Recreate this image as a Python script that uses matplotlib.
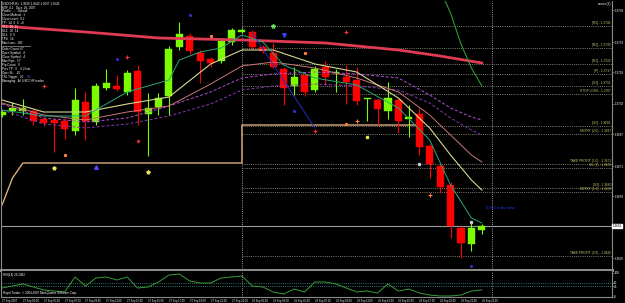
import matplotlib
matplotlib.use("Agg")
import matplotlib.pyplot as plt
import matplotlib.transforms as mtransforms
import numpy as np

plt.rcParams["font.family"] = ["Liberation Sans", "DejaVu Sans"]

W, H = 625, 303

# USDCHF H1 bars, 27 Sep 01:00 .. 28 Sep 23:00
opens = [1.36965, 1.36985, 1.36985, 1.36985, 1.36945, 1.3694, 1.36935, 1.36885, 1.3703, 1.3693,
         1.3710, 1.3711, 1.3708, 1.37185, 1.3697, 1.37005, 1.3706, 1.37305, 1.3736, 1.37275,
         1.37245, 1.37235, 1.3733, 1.3738, 1.3738, 1.37305, 1.37275, 1.37195, 1.3711, 1.37165,
         1.3709, 1.37205, 1.37175, 1.37155, 1.3714, 1.37045, 1.3704, 1.36985, 1.3704, 1.36945,
         1.3697, 1.3681, 1.3671, 1.36615, 1.3640, 1.3632, 1.3639]
highs = [1.3699, 1.3703, 1.37045, 1.36995, 1.36955, 1.3695, 1.3695, 1.3710, 1.3708, 1.37125,
         1.37195, 1.37165, 1.3719, 1.37215, 1.37075, 1.37075, 1.3731, 1.3743, 1.37375, 1.3729,
         1.37255, 1.3735, 1.3740, 1.3740, 1.3739, 1.37315, 1.37325, 1.37205, 1.37205, 1.37175,
         1.3721, 1.37235, 1.37195, 1.37215, 1.37205, 1.3705, 1.3705, 1.3713, 1.3705, 1.37015,
         1.3700, 1.3682, 1.3672, 1.3663, 1.3641, 1.36425, 1.3642]
lows = [1.36955, 1.36965, 1.36965, 1.36915, 1.3691, 1.3678, 1.36845, 1.36865, 1.3684, 1.36915,
        1.3709, 1.37085, 1.37065, 1.36915, 1.3676, 1.36965, 1.36965, 1.3729, 1.3727, 1.37125,
        1.37205, 1.37225, 1.37315, 1.37375, 1.37295, 1.37275, 1.3720, 1.37015, 1.37065, 1.3706,
        1.3708, 1.37115, 1.3708, 1.3702, 1.37015, 1.36935, 1.36915, 1.36945, 1.36875, 1.36855,
        1.36765, 1.3665, 1.36575, 1.3635, 1.3625, 1.36285, 1.3637]
closes = [1.3698, 1.3700, 1.3700, 1.36935, 1.36925, 1.36925, 1.36895, 1.3704, 1.36935, 1.3711,
          1.37125, 1.37095, 1.37175, 1.3698, 1.3700, 1.3705, 1.37295, 1.3737, 1.37285, 1.37235,
          1.37225, 1.37335, 1.3739, 1.3739, 1.37305, 1.37285, 1.37205, 1.3710, 1.37155, 1.3708,
          1.37195, 1.37155, 1.3718, 1.3713, 1.37035, 1.3705, 1.36995, 1.3705, 1.36935, 1.36955,
          1.36805, 1.3672, 1.36605, 1.3641, 1.36325, 1.3640, 1.3641]

rsi = [37.5, 45.8, 54.2, 41.7, 29.2, 25.0, 20.8, 83.3, 45.8, 79.2,
       83.3, 70.8, 83.3, 37.5, 41.7, 62.5, 91.7, 95.8, 66.7, 58.3,
       58.3, 79.2, 83.3, 87.5, 45.8, 41.7, 20.8, 12.5, 33.3, 20.8,
       62.5, 62.5, 54.2, 37.5, 20.8, 25.0, 16.7, 54.2, 25.0, 33.3,
       16.7, 8.3, 4.2, 4.2, 8.3, 25.0, 29.2]

# indicator lines, read at selected bars
ma_idx = [0, 4, 8, 12, 16, 20, 23, 26, 30, 34, 38, 41, 43, 45, 46]
ma_yellow = [1.3704, 1.3698, 1.3698, 1.3702, 1.37055, 1.3722, 1.3729, 1.3729, 1.3722, 1.3718,
             1.3705, 1.3690, 1.36765, 1.3664, 1.3659]
ma_pink = [1.37025, 1.36965, 1.3694, 1.3698, 1.3701, 1.3712, 1.3721, 1.3723, 1.3720, 1.3715,
           1.3708, 1.36965, 1.36865, 1.36765, 1.3673]
ma_purple1 = [1.3702, 1.3695, 1.3693, 1.3695, 1.3701, 1.3708, 1.3715, 1.3717, 1.3718, 1.3717,
              1.3715, 1.37065, 1.3700, 1.36955, 1.3694]
ma_purple2 = [1.3699, 1.3692, 1.3690, 1.3692, 1.3696, 1.3702, 1.3709, 1.3711, 1.3712, 1.3711,
              1.3709, 1.37025, 1.3695, 1.3689, 1.36865]
teal_idx = [0, 4, 8, 12, 16, 17, 19, 21, 23, 25, 27, 30, 34, 38, 41, 43, 45, 46]
ma_teal = [1.3699, 1.3696, 1.3696, 1.3708, 1.3714, 1.3724, 1.3728, 1.3730, 1.37365, 1.3733,
           1.37215, 1.3715, 1.37115, 1.3700, 1.3684, 1.36615, 1.3645, 1.36425]
ma200_idx = [0, 8, 15, 23, 31, 38, 42, 46]
ma200 = [1.3741, 1.3738, 1.3735, 1.3734, 1.37325, 1.3729, 1.3726, 1.37225]
band_idx = [42, 43, 44, 45, 46]
band_up = [1.3759, 1.37475, 1.3732, 1.3720, 1.3711]
trend_idx = [24, 30]
trend = [1.37375, 1.3690]
support_idx = [0, 1, 2, 23, 23, 40]
support = [1.36515, 1.3665, 1.36725, 1.36725, 1.36915, 1.36915]

level_names = ["[R3]", "[R2]", "[R1]", "[P]", "[S1]", "STOP LOSS", "[S2]", "ENTRY (2.0)",
               "TAKE PROFIT (1.0)", "S/L (2)", "[S3]", "ENTRY (1.0)", "TAKE PROFIT (2.0)"]
level_prices = [1.3741, 1.3730, 1.3722, 1.3717, 1.3711, 1.3707, 1.3691, 1.3687,
                1.3672, 1.3670, 1.3660, 1.3658, 1.3626]

price_ticks = [1.3749, 1.3733, 1.3718, 1.3702, 1.3687, 1.3671, 1.3656, 1.3625]
bid = 1.3641

time_ticks = [0, 2, 4, 6, 8, 10, 12, 14, 16, 18, 20, 22, 24, 26, 28, 30, 32, 34, 36, 38, 40, 42, 44, 46]
time_labels = ["27 Sep 2007", "27 Sep 03:00", "27 Sep 05:00", "27 Sep 07:00", "27 Sep 09:00",
               "27 Sep 11:00", "27 Sep 13:00", "27 Sep 15:00", "27 Sep 17:00", "27 Sep 19:00",
               "27 Sep 21:00", "27 Sep 23:00", "28 Sep 01:00", "28 Sep 03:00", "28 Sep 05:00",
               "28 Sep 07:00", "28 Sep 09:00", "28 Sep 11:00", "28 Sep 13:00", "28 Sep 15:00",
               "28 Sep 17:00", "28 Sep 19:00", "28 Sep 21:00", "28 Sep 23:00"]
day_breaks = [23, 47]

# arrows / signals on chart
sig_red_plus = ([4, 12, 30, 33], [1.3711, 1.37255, 1.36885, 1.3738])
sig_orange_dot = ([6, 20, 29, 33], [1.36765, 1.3736, 1.37275, 1.3692])
sig_orange_plus = ([34, 41], [1.36935, 1.36565])
sig_yellow_star = ([5, 14], [1.3670, 1.3668])
sig_yellow_dot = ([35], [1.36855])
sig_green_star = ([26], [1.3741])
sig_blue_dot = ([11, 18, 28, 45], [1.37245, 1.37465, 1.36985, 1.3621])
sig_blue_up = ([9], [1.36705])
sig_blue_down = ([27], [1.37365])
sig_red_dot = ([13], [1.36835])
sig_white_dot = ([40, 45], [1.3672, 1.3643])

info_top = ["USDCHF,H1  1.3639 1.3642 1.3637 1.3641", "MTF 4.1   Date: 26, 2007",
            "Profile: ....  Default", "Close Method:  1", "Close Level:  0.2",
            "TP:  14  0  0  +0", "SL1:  10  15", "SL2:  20  14", "SL3:  0  0",
            "TP4:  14", "Max Loss:  100"]
info_bottom = ["Order Count: 67", "Open Symbol:  4", "Close Symbol:  4", "Max Pips:  57",
               "Pip Count:  0", "Prev TP:  0    0.2 lots", "Oper SL:  -10",
               "TSL Trigger:  20", "Managing:  All USDCHF trades"]

fig = plt.figure(figsize=(W / 100, H / 100), dpi=100, facecolor="black")
ax = fig.add_axes([1 / W, 1 - 269.5 / H, 611 / W, 268.5 / H], facecolor="black")
rx = fig.add_axes([1 / W, 1 - 297 / H, 611 / W, 26.5 / H], facecolor="black")

xl = (-0.1, 58.48)
for a in (ax, rx):
    a.set_xlim(*xl)
    for s in a.spines.values():
        s.set_color("#8a8a8a")
        s.set_linewidth(0.8)
    a.spines["top"].set_visible(False)
    for d in day_breaks:
        a.axvline(d, color="#c8c8c8", lw=0.6, ls=(0, (1, 1.6)), zorder=1)
ax.spines["bottom"].set_linewidth(2.2)

ax.set_ylim(1.361925, 1.37535)

# level lines on the right part
for name, p in zip(level_names, level_prices):
    ax.hlines(p, day_breaks[0], xl[1], colors="#a8a890", lw=0.6, ls=(0, (1, 1.6)), zorder=1)
    ax.text(xl[1] - 0.1, p + 0.00003, f"{name} - {p:.4f}", ha="right", va="bottom",
            fontsize=2.3, color="#c8c86e", zorder=5)

ax.axhline(bid, color="#9a9a9a", lw=0.8, zorder=1)

# indicators
ax.plot(support_idx, support, color="#d9ad7c", lw=1.0, zorder=2)
ax.plot(ma200_idx, ma200, color="#e03a55", lw=2.0, zorder=4)
ax.plot(ma_idx, ma_purple2, color="#8a38b0", lw=0.7, ls=(0, (3, 2)), zorder=4)
ax.plot(ma_idx, ma_purple1, color="#b450d8", lw=0.7, ls=(0, (3, 2)), zorder=4)
ax.plot(ma_idx, ma_pink, color="#c87878", lw=0.7, zorder=4)
ax.plot(ma_idx, ma_yellow, color="#d8d890", lw=0.8, zorder=4)
ax.plot(teal_idx, ma_teal, color="#2aa878", lw=0.7, zorder=4)
ax.plot(band_idx, band_up, color="#2e9a2e", lw=0.8, zorder=4)
ax.plot(trend_idx, trend, color="#2828c8", lw=0.7, zorder=4)

# candles
x = np.arange(len(opens))
o, h, l, c = map(np.array, (opens, highs, lows, closes))
col = np.where(c >= o, "#7cfc00", "#ff0000")
ax.vlines(x, l, h, colors=col, lw=0.8, zorder=3)
ax.bar(x, np.maximum(np.abs(c - o), 0.00005), 0.68, np.minimum(o, c),
       color=col, edgecolor=col, lw=0.3, zorder=3)

# signals
ax.plot(*sig_red_plus, ls="none", marker="+", ms=2.5, mew=0.8, color="#ff3030", zorder=5)
ax.plot(*sig_orange_dot, ls="none", marker="o", ms=1.4, color="#ff7f3f", zorder=5)
ax.plot(*sig_orange_plus, ls="none", marker="+", ms=2.5, mew=0.8, color="#ff7f3f", zorder=5)
ax.plot(*sig_yellow_star, ls="none", marker="*", ms=2.8, color="#e8e060", zorder=5)
ax.plot(*sig_yellow_dot, ls="none", marker="s", ms=1.5, color="#e8e040", zorder=5)
ax.plot(*sig_green_star, ls="none", marker="*", ms=3.0, color="#60e060", zorder=5)
ax.plot(*sig_blue_dot, ls="none", marker="o", ms=1.2, color="#3030d0", zorder=5)
ax.plot(*sig_blue_up, ls="none", marker="^", ms=2.6, color="#6040ff", zorder=5)
ax.plot(*sig_blue_down, ls="none", marker="v", ms=2.6, color="#3040ff", zorder=5)
ax.plot(*sig_red_dot, ls="none", marker="o", ms=1.4, color="#d03030", zorder=5)
ax.plot(*sig_white_dot, ls="none", marker="s", ms=1.4, color="#c8c8d8", zorder=5)

# price scale
ax.set_xticks([])
ax.yaxis.tick_right()
ax.set_yticks(price_ticks)
ax.set_yticklabels([f"{p:.4f}" for p in price_ticks])
ax.tick_params(axis="y", length=1.2, width=0.5, color="#8a8a8a", labelsize=2.2,
               labelcolor="white", pad=0.5)
tr = mtransforms.blended_transform_factory(ax.transAxes, ax.transData)
ax.text(1.001, bid, f"{bid:.4f}", transform=tr, ha="left", va="center", fontsize=2.2,
        color="black", bbox=dict(boxstyle="square,pad=0.12", fc="white", ec="white"),
        clip_on=False, zorder=6)

# RSI window
rx.set_ylim(0, 110.4)
rx.plot(x, rsi, color="#3a9a3a", lw=0.7, zorder=3)
for lv in (60, 45):
    rx.axhline(lv, color="#3e9a9a", lw=0.6, ls=(0, (1, 1.6)), zorder=1)
rx.yaxis.tick_right()
rx.set_yticks([0, 45, 60, 100])
rx.tick_params(axis="y", length=1.2, width=0.5, color="#8a8a8a", labelsize=2.2,
               labelcolor="white", pad=0.5)
rx.set_xticks(time_ticks)
rx.set_xticklabels(time_labels, ha="left")
rx.tick_params(axis="x", length=0, labelsize=1.9, labelcolor="white", pad=1.2)
rx.text(0.003, 0.9, "RSI(14) 29.2462", transform=rx.transAxes, fontsize=2.2,
        color="white", va="top")
rx.text(0.003, 0.06, "Royal Trader, \u00a9 2004-2007 MetaQuotes Software Corp.",
        transform=rx.transAxes, fontsize=2.2, color="white", va="bottom")

# info panel, top left
for k, s in enumerate(info_top):
    fig.text(2 / W, 1 - (3.5 + 3.9 * k) / H, s, fontsize=2.2, color="white", va="center")
fig.add_artist(plt.Line2D([2 / W, 30 / W], [1 - 46 / H] * 2, color="#9a9a9a", lw=0.5))
for k, s in enumerate(info_bottom):
    fig.text(2 / W, 1 - (49.5 + 3.95 * k) / H, s, fontsize=2.2, color="white", va="center")
fig.text(27 / W, 1 - (49.5 + 3.95 * 7) / H, "ON", fontsize=2.2, color="#4060ff", va="center")

fig.text(486 / W, 1 - 208 / H, "0:56:2 to bar close", fontsize=2.5, color="#2b3bff", va="center")
fig.text(611 / W, 1 - 4 / H, "scorex(2)", fontsize=2.3, color="white", va="center", ha="right")

fig.savefig("out.png", dpi=100, facecolor="black")
